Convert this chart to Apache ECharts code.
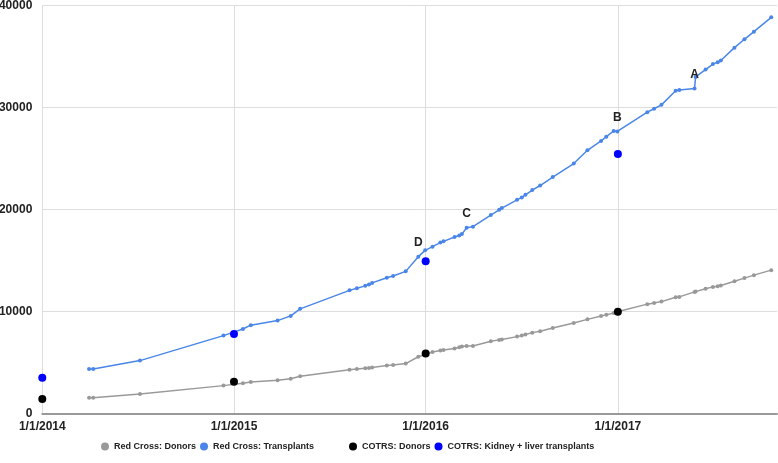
<!DOCTYPE html>
<html>
<head>
<meta charset="utf-8">
<script src="https://cdn.jsdelivr.net/npm/echarts@6/dist/echarts.min.js"></script>
<style>html,body{margin:0;padding:0;background:#fff}#c{width:778px;height:463px}</style>
</head>
<body>
<div id="c"></div>
<script>
const dates = ['2014-03-31','2014-04-08','2014-07-06','2014-12-12','2015-01-18','2015-02-02','2015-03-25','2015-04-19','2015-05-07','2015-08-09','2015-08-23','2015-09-08','2015-09-15','2015-09-21','2015-10-19','2015-10-31','2015-11-24','2015-12-18','2015-12-31','2016-01-14','2016-01-29','2016-02-04','2016-02-25','2016-03-05','2016-03-10','2016-03-19','2016-03-31','2016-05-04','2016-05-20','2016-05-25','2016-06-23','2016-07-02','2016-07-09','2016-07-22','2016-08-06','2016-08-30','2016-10-09','2016-11-04','2016-11-30','2016-12-10','2016-12-24','2016-12-31','2017-02-26','2017-03-11','2017-03-25','2017-04-21','2017-04-28','2017-05-27','2017-05-29','2017-06-17','2017-07-01','2017-07-10','2017-07-16','2017-08-11','2017-08-30','2017-09-17','2017-10-20'];
const rcDonors = [1570,1570,1930,2750,2980,3110,3280,3430,3670,4310,4370,4450,4480,4530,4720,4760,4910,5580,5800,6050,6180,6250,6390,6510,6570,6620,6640,7100,7230,7260,7550,7650,7750,7940,8080,8400,8890,9240,9560,9680,9870,9990,10730,10850,10980,11410,11440,11930,11960,12230,12420,12490,12550,12980,13280,13570,14060];
const rcTransplants = [4380,4380,5200,7650,8300,8670,9120,9580,10270,12080,12280,12520,12650,12810,13320,13480,13940,15380,16000,16360,16760,16880,17300,17450,17590,18210,18320,19450,19970,20140,20950,21180,21440,21900,22350,23180,24500,25800,26710,27130,27690,27650,29530,29870,30250,31640,31710,31860,32980,33700,34240,34430,34600,35850,36670,37420,38820];
const cotrsDates = ['2014-01-01','2015-01-01','2016-01-01','2017-01-01'];
const cotrsDonors = [1440,3140,5900,9990];
const cotrsTransplants = [3530,7810,14920,25430];
const annotations = {'2015-12-18':'D','2016-03-19':'C','2016-12-31':'B','2017-05-27':'A'};
const yearTicks = ['2014-01-01','2015-01-01','2016-01-01','2017-01-01'];
const yearLabels = ['1/1/2014','1/1/2015','1/1/2016','1/1/2017'];
const xRange = ['2014-01-01','2017-10-31'];
const seriesNames = ['Red Cross: Donors','Red Cross: Transplants','COTRS: Donors','COTRS: Kidney + liver transplants'];

function ts(d){ const p = d.split('-').map(Number); return Date.UTC(p[0], p[1]-1, p[2]); }
const tickTimes = yearTicks.map(ts);
const chart = echarts.init(document.getElementById('c'));
const labelFont = {fontFamily:'Arial, "Liberation Sans", sans-serif', fontWeight:'bold', fontSize:12, color:'#222'};
const legendText = {fontFamily:'Arial, "Liberation Sans", sans-serif', fontWeight:'bold', fontSize:9, color:'#222'};

chart.setOption({
  animation:false,
  grid:{left:42.3, right:1, top:5.3, bottom:49.3, containLabel:false, outerBoundsMode:'none'},
  xAxis:{
    type:'value', min:ts(xRange[0]), max:ts(xRange[1]),
    axisLine:{show:true, onZero:false, lineStyle:{color:'#999', width:2}},
    axisTick:{show:false, customValues:tickTimes},
    splitLine:{show:true, lineStyle:{color:'#ddd', width:1}},
    axisLabel:Object.assign({customValues:tickTimes, margin:7, showMinLabel:true, showMaxLabel:true, hideOverlap:false, formatter:function(v){
      const i = tickTimes.findIndex(t => Math.abs(t - v) < 864e5);
      return i >= 0 ? yearLabels[i] : '';
    }}, labelFont)
  },
  yAxis:{
    type:'value', min:0, max:40000, interval:10000,
    axisLine:{show:false}, axisTick:{show:false},
    splitLine:{lineStyle:{color:'#ddd', width:1}},
    axisLabel:Object.assign({margin:10, formatter:function(v){ return String(v); }}, labelFont)
  },
  legend:[
    {left:101, top:442, padding:0, itemWidth:8, itemHeight:8, itemGap:4, icon:'circle', textStyle:legendText,
     data:[seriesNames[0], seriesNames[1]]},
    {left:349, top:442, padding:0, itemWidth:8, itemHeight:8, itemGap:4, icon:'circle', textStyle:legendText,
     data:[seriesNames[2], seriesNames[3]]}
  ],
  series:[
    {name:seriesNames[0], type:'line', color:'#999999', symbol:'circle', symbolSize:4,
     lineStyle:{width:1.5}, z:2,
     data:dates.map((d,i)=>[ts(d), rcDonors[i]])},
    {name:seriesNames[1], type:'line', color:'#4a86e8', symbol:'circle', symbolSize:4,
     lineStyle:{width:1.5}, z:3,
     data:dates.map((d,i)=>{
       const item = {value:[ts(d), rcTransplants[i]]};
       if (annotations[d]) item.label = {show:true, position:'top', distance:6, formatter:annotations[d],
         fontFamily:'Arial, "Liberation Sans", sans-serif', fontWeight:'bold', fontSize:12, color:'#222'};
       return item;
     })},
    {name:seriesNames[2], type:'scatter', color:'#000000', symbol:'circle', symbolSize:8, z:5,
     itemStyle:{opacity:1},
     data:cotrsDates.map((d,i)=>[ts(d), cotrsDonors[i]])},
    {name:seriesNames[3], type:'scatter', color:'#0000ff', symbol:'circle', symbolSize:8, z:5,
     itemStyle:{opacity:1},
     data:cotrsDates.map((d,i)=>[ts(d), cotrsTransplants[i]])}
  ]
});
</script>
</body>
</html>
